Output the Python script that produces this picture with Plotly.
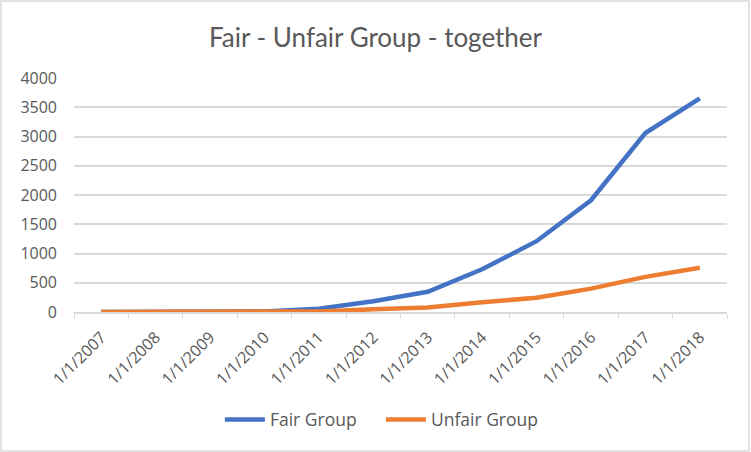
import plotly.graph_objects as go

years = ["1/1/2007", "1/1/2008", "1/1/2009", "1/1/2010", "1/1/2011", "1/1/2012",
         "1/1/2013", "1/1/2014", "1/1/2015", "1/1/2016", "1/1/2017", "1/1/2018"]
fair_group = [0, 1, 3, 10, 55, 185, 345, 730, 1210, 1910, 3060, 3650]
unfair_group = [0, 0, 1, 3, 10, 45, 75, 165, 245, 400, 600, 758]

text_grey = "#595959"
grid_grey = "#d9d9d9"

fig = go.Figure()
fig.add_trace(go.Scatter(x=years, y=fair_group, name="Fair Group", mode="lines",
                         line=dict(color="#4472C4", width=4.5)))
fig.add_trace(go.Scatter(x=years, y=unfair_group, name="Unfair Group", mode="lines",
                         line=dict(color="#ED7D31", width=4.5)))

fig.update_layout(
    width=751, height=452,
    margin=dict(l=74, r=24, t=78, b=140),
    paper_bgcolor="white", plot_bgcolor="white",
    font=dict(family="Open Sans", size=16, color=text_grey),
    title=dict(text="Fair - Unfair Group - together", x=0.5, xanchor="center",
               y=1 - 38 / 452, yanchor="middle",
               font=dict(family="Lato", size=26, color=text_grey)),
    legend=dict(orientation="h", x=0.47, xanchor="center", y=-0.46, yanchor="middle",
                font=dict(size=17.5, color=text_grey), itemwidth=40,
                entrywidth=106, entrywidthmode="pixels"),
    showlegend=True,
)
fig.update_xaxes(type="category", range=[-0.5, len(years) - 0.5], tickangle=-45,
                 tickson="boundaries", ticks="outside", ticklen=5, tickcolor=grid_grey,
                 showline=True, linecolor=grid_grey, linewidth=1.5,
                 showgrid=False, tickfont=dict(size=16), ticklabelstandoff=8)
fig.update_yaxes(range=[0, 4000], dtick=500, showgrid=True, gridcolor=grid_grey,
                 gridwidth=1.5, zeroline=False, showline=False,
                 ticklabelstandoff=16, tickfont=dict(size=16))

# thin grey frame around the chart area, like the spreadsheet chart border
fig.add_shape(type="rect", xref="paper", yref="paper",
              x0=-73 / 653, x1=1 + 22 / 653, y0=-139 / 234, y1=1 + 77 / 234,
              line=dict(color=grid_grey, width=1.5), fillcolor="rgba(0,0,0,0)")

fig.write_html("out.html", config={"displayModeBar": False},
               post_script="document.body.style.margin='0';")
